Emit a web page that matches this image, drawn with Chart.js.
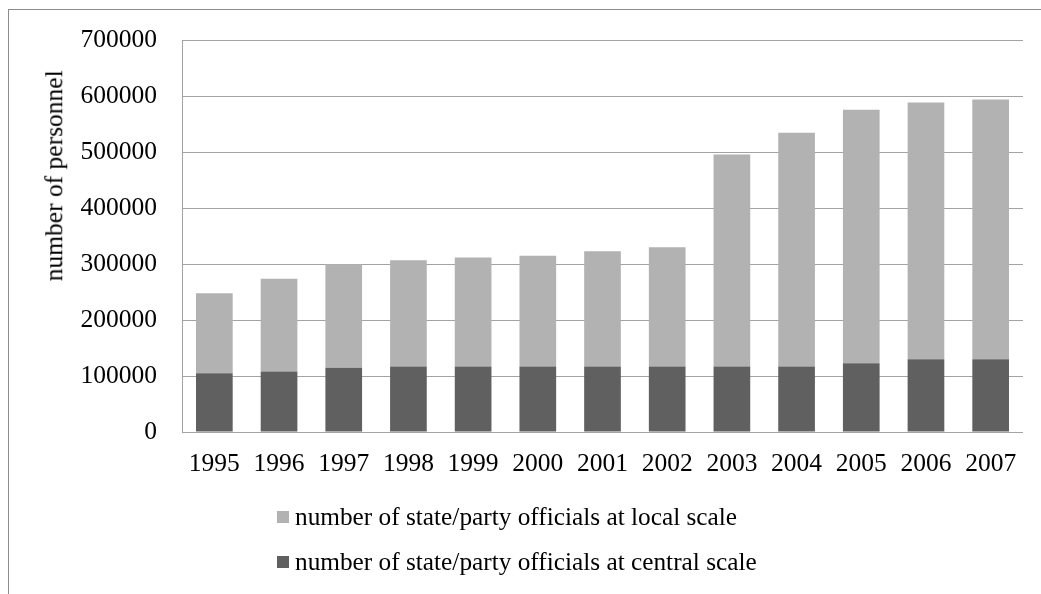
<!DOCTYPE html>
<html>
<head>
<meta charset="utf-8">
<script src="https://cdn.jsdelivr.net/npm/chart.js@4/dist/chart.umd.min.js"></script>
<style>
  html, body { margin: 0; padding: 0; background: #fff; }
  #wrap { position: relative; width: 1041px; height: 594px; overflow: hidden; font-family: "Liberation Serif", "Times New Roman", serif; color: #000; }
  #frame { position: absolute; left: 8px; top: 9px; right: -2px; bottom: -2px; border-left: 1px solid #8c8c8c; border-top: 1px solid #8c8c8c; }
  #chart { position: absolute; left: 0; top: 0; }
  #ytitle { position: absolute; width: 300px; height: 25.5px; line-height: 25.5px; font-size: 25.5px; text-align: center; white-space: nowrap;
            left: -96px; top: 163px; transform: rotate(-90deg); transform-origin: 50% 50%; }
  .legend-item { position: absolute; left: 277px; height: 30px; line-height: 30px; font-size: 25.3px; white-space: nowrap; }
  .legend-item .box { display: inline-block; width: 12px; height: 12px; margin-right: 6px; vertical-align: middle; position: relative; top: -2px; }
</style>
</head>
<body>
<div id="wrap">
  <div id="frame"></div>
  <canvas id="chart" width="1041" height="594"></canvas>
  <div id="ytitle">number of personnel</div>
  <div id="legend"></div>
</div>
<script>
// Years on the category axis
const years = ['1995', '1996', '1997', '1998', '1999', '2000', '2001', '2002', '2003', '2004', '2005', '2006', '2007'];

// Officials at central scale (lower segment of each stack)
const centralValues = [105000, 108000, 115000, 117000, 117000, 117000, 117000, 117000, 117000, 117000, 123000, 130000, 130000];

// Officials at local scale (upper segment of each stack)
const localValues = [143000, 166000, 185000, 190000, 195000, 198000, 206000, 213000, 379000, 418000, 453000, 459000, 464000];

// Value axis range and step
const yMin = 0;
const yMax = 700000;
const yStep = 100000;

const seriesLabels = [
  'number of state/party officials at central scale',
  'number of state/party officials at local scale'
];

const FONT = '"Liberation Serif", "Times New Roman", serif';

const chart = new Chart(document.getElementById('chart'), {
  type: 'bar',
  data: {
    labels: years,
    datasets: [
      { label: seriesLabels[0], data: centralValues, backgroundColor: '#606060', stack: 's' },
      { label: seriesLabels[1], data: localValues, backgroundColor: '#b2b2b2', stack: 's' }
    ]
  },
  options: {
    responsive: false,
    animation: false,
    events: [],
    layout: { padding: { left: 0, right: 18, top: 37, bottom: 0 } },
    datasets: { bar: { barPercentage: 1, categoryPercentage: 0.567 } },
    plugins: { legend: { display: false }, tooltip: { enabled: false } },
    scales: {
      x: {
        stacked: true,
        grid: { display: false },
        border: { display: false },
        ticks: { color: '#000', padding: 9, font: { family: FONT, size: 25.5 }, maxRotation: 0, autoSkip: false },
        afterFit(scale) { scale.height = 162; }
      },
      y: {
        stacked: true,
        min: yMin,
        max: yMax,
        grid: { color: '#a3a3a3', lineWidth: 1, drawTicks: false },
        border: { display: true, color: '#a3a3a3', width: 1 },
        ticks: {
          stepSize: yStep,
          color: '#000',
          padding: 25,
          font: { family: FONT, size: 25.5 },
          callback: (v) => String(v)
        },
        afterFit(scale) { scale.width = 182; }
      }
    }
  }
});

// Legend listed top-down: local scale first, central scale second
const legendEl = document.getElementById('legend');
const items = chart.options.plugins.legend.labels.generateLabels(chart).slice().reverse();
const rowTops = [501, 546];
items.forEach((it, i) => {
  const row = document.createElement('div');
  row.className = 'legend-item';
  row.style.top = rowTops[i] + 'px';
  const box = document.createElement('span');
  box.className = 'box';
  box.style.background = it.fillStyle;
  row.appendChild(box);
  row.appendChild(document.createTextNode(it.text));
  legendEl.appendChild(row);
});
</script>
</body>
</html>
